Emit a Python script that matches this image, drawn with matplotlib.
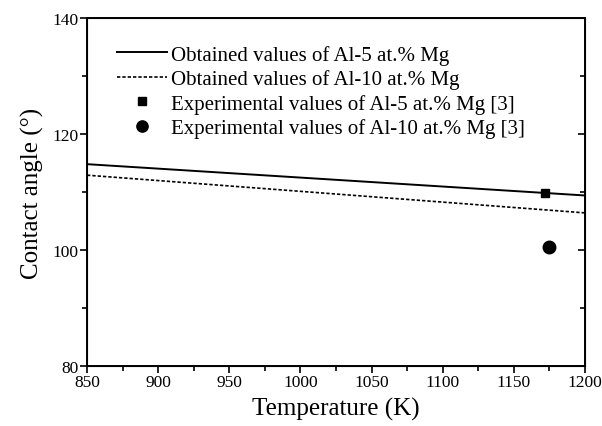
import numpy as np
import matplotlib.pyplot as plt
from matplotlib.ticker import MultipleLocator

plt.rcParams['font.family'] = ['Liberation Serif', 'DejaVu Serif']

# computed contact angle lines (end points)
temp = [850, 1200]
al5_calc = [114.8, 109.4]
al10_calc = [112.9, 106.4]

# experimental points
exp_al5_t = [1172]
exp_al5 = [109.8]
exp_al10_t = [1175]
exp_al10 = [100.6]

fig = plt.figure(figsize=(6.02, 4.27), dpi=100)
ax = fig.add_axes([87 / 602, 1 - 367 / 427, 498 / 602, 348 / 427])

ax.plot(temp, al5_calc, color='black', lw=1.4, label='Obtained values of Al-5 at.% Mg')
ax.plot(temp, al10_calc, color='black', lw=1.2, dashes=(2.0, 1.2),
        label='Obtained values of Al-10 at.% Mg')
ax.plot(exp_al5_t, exp_al5, 's', color='black', ms=6, label='Experimental values of Al-5 at.% Mg [3]')
ax.plot(exp_al10_t, exp_al10, 'o', color='black', ms=9, label='Experimental values of Al-10 at.% Mg [3]')

ax.set_xlim(850, 1200)
ax.set_ylim(80, 140)
ax.xaxis.set_major_locator(MultipleLocator(50))
ax.xaxis.set_minor_locator(MultipleLocator(25))
ax.yaxis.set_major_locator(MultipleLocator(20))
ax.yaxis.set_minor_locator(MultipleLocator(10))
ax.tick_params(which='both', direction='out', top=False, right=False, width=1.2, labelsize=12.5, pad=1)
ax.tick_params(which='major', length=5)
ax.tick_params(which='minor', length=3.5)
for s in ax.spines.values():
    s.set_linewidth(1.4)

# right side ticks point inward
ax2 = ax.twinx()
ax2.set_ylim(80, 140)
ax2.yaxis.set_major_locator(MultipleLocator(20))
ax2.yaxis.set_minor_locator(MultipleLocator(10))
ax2.tick_params(which='both', direction='in', width=1.2, labelright=False)
ax2.tick_params(which='major', length=5)
ax2.tick_params(which='minor', length=3.5)

ax.set_xlabel('Temperature (K)', fontsize=18, labelpad=5)
ax.set_ylabel('Contact angle (°)', fontsize=18, labelpad=6)

ax.legend(loc='upper left', bbox_to_anchor=(0.043, 0.947), frameon=False, fontsize=15,
          handlelength=2.4, handletextpad=0.2, labelspacing=0.22, borderaxespad=0,
          markerscale=0.9)

fig.savefig('out.png', dpi=100)
